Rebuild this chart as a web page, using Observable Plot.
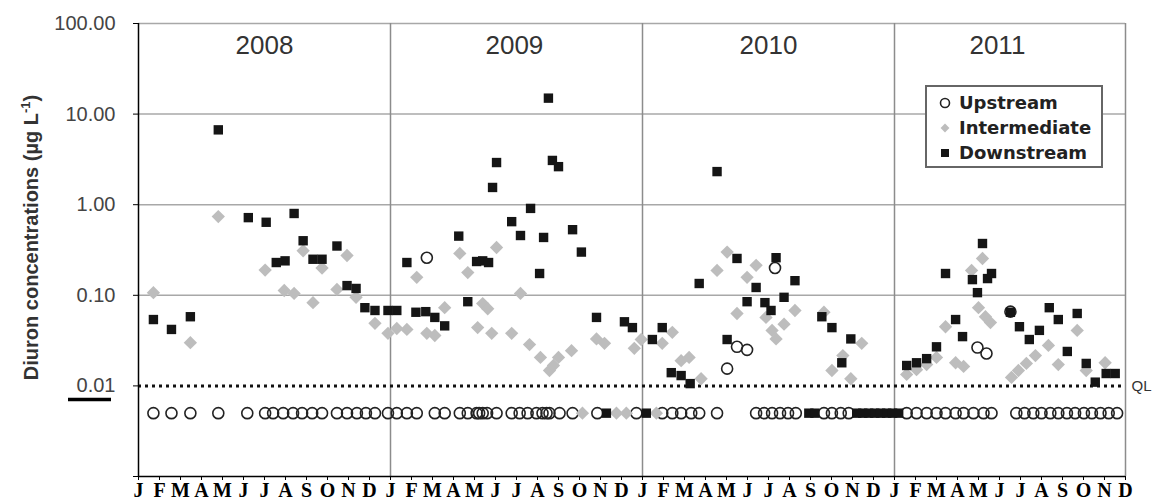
<!DOCTYPE html>
<html><head><meta charset="utf-8">
<script src="https://cdn.jsdelivr.net/npm/d3@7"></script>
<script src="https://cdn.jsdelivr.net/npm/@observablehq/plot@0.6"></script>
<style>
body{margin:0;background:#fff;}
#wrap{position:relative;width:1153px;height:503px;overflow:hidden;}
#legend{position:absolute;left:925px;top:85px;}
</style></head><body><div id="wrap"></div>
<script>
// ---------- data ----------
const monthLabels = ["J","F","M","A","M","J","J","A","S","O","N","D"];
const years = ["2008","2009","2010","2011"];
const yearLabelMonth = [6.0, 17.9, 30.0, 40.9];
const yearLabelValue = 57;
const yearBoundaries = [12, 24, 36, 47];
const gridValues = [0.1, 1, 10, 100];
const yTicks = [0.001, 0.01, 0.1, 1, 10, 100];
const QL = 0.01;
const seriesNames = ["Upstream", "Intermediate", "Downstream"];

// month index since Jan 2008 ; values in µg/L (0.005 = below QL)
const upMonth = [
  0.71,1.57,2.47,3.80,5.18,6.03,6.41,6.89,7.36,7.79,8.27,8.74,9.45,9.93,10.40,10.83,11.26,11.88,12.30,
  12.78,13.25,13.73,14.11,14.58,15.30,15.68,16.10,16.22,16.39,16.60,17.05,17.77,18.15,18.53,18.95,19.24,19.43,19.57,20.05,20.67,21.85,23.71,
  24.94,25.42,25.84,26.32,26.70,27.55,28.03,28.50,28.98,29.41,29.79,30.17,30.31,30.55,30.93,31.30,32.64,33.02,33.44,33.82,
  36.58,37.05,37.53,38.00,38.43,38.91,39.29,39.76,39.95,40.24,40.38,40.62,41.52,
  41.80,42.19,42.61,43.00,43.42,43.80,44.21,44.60,45.02,45.40,45.81,46.20,46.60
];
const upValue = [
  0.005,0.005,0.005,0.005,0.005,0.005,0.005,0.005,0.005,0.005,0.005,0.005,0.005,0.005,0.005,0.005,0.005,0.005,0.005,
  0.005,0.005,0.26,0.005,0.005,0.005,0.005,0.005,0.005,0.005,0.005,0.005,0.005,0.005,0.005,0.005,0.005,0.005,0.005,0.005,0.005,0.005,0.005,
  0.005,0.005,0.005,0.005,0.005,0.005,0.0155,0.027,0.025,0.005,0.005,0.005,0.20,0.005,0.005,0.005,0.005,0.005,0.005,0.005,
  0.005,0.005,0.005,0.005,0.005,0.005,0.005,0.005,0.0265,0.005,0.0228,0.005,0.066,
  0.005,0.005,0.005,0.005,0.005,0.005,0.005,0.005,0.005,0.005,0.005,0.005,0.005
];

const interMonth = [
  0.71,2.47,3.80,6.03,6.94,7.41,7.84,8.31,8.74,9.45,9.93,10.36,11.26,11.88,12.30,
  12.78,13.25,13.73,14.11,14.58,15.30,15.68,16.15,16.39,16.63,16.82,17.05,17.77,18.19,18.62,19.14,19.57,19.76,20.00,20.62,21.14,21.81,22.19,22.76,23.23,23.61,23.94,24.66,
  24.94,25.42,25.84,26.22,26.79,27.55,28.03,28.50,28.98,29.41,29.88,30.17,30.36,30.74,31.26,32.64,33.02,33.54,33.92,34.44,
  36.58,37.05,37.53,38.00,38.43,38.91,39.29,39.67,40.00,40.19,40.33,40.57,41.57,41.90,42.28,42.71,43.33,43.80,44.70,45.13,46.03
];
const interValue = [
  0.107,0.030,0.74,0.19,0.113,0.105,0.31,0.083,0.20,0.116,0.275,0.095,0.049,0.038,0.043,
  0.042,0.158,0.038,0.036,0.073,0.29,0.178,0.044,0.081,0.071,0.038,0.337,0.038,0.105,0.0286,0.0206,0.0148,0.0168,0.0206,0.0245,0.005,0.033,0.0295,0.005,0.005,0.026,0.0325,0.005,
  0.0295,0.039,0.019,0.0206,0.012,0.188,0.30,0.063,0.158,0.214,0.057,0.041,0.033,0.048,0.068,0.065,0.0148,0.0216,0.012,0.0295,
  0.0134,0.0151,0.0172,0.0206,0.045,0.018,0.0164,0.188,0.073,0.255,0.058,0.050,0.0124,0.0148,0.0177,0.0216,0.028,0.0172,0.041,0.0148,0.018
];

const downMonth = [
  0.71,1.57,2.47,3.80,5.23,6.08,6.56,6.98,7.41,7.84,8.31,8.74,9.45,9.93,10.36,10.78,11.26,11.88,12.30,
  12.78,13.21,13.68,14.11,14.58,15.25,15.68,16.10,16.39,16.67,16.86,17.05,17.77,18.19,18.67,19.10,19.29,19.52,19.71,20.00,20.67,21.09,21.81,22.28,23.14,23.52,24.18,
  24.47,24.94,25.37,25.84,26.27,26.70,27.55,28.03,28.50,28.98,29.41,29.83,30.12,30.36,30.74,31.26,31.92,32.21,32.54,33.02,33.49,33.92,
  34.20,34.49,34.77,35.06,35.34,35.63,35.91,36.20,
  36.58,37.05,37.53,38.00,38.43,38.91,39.24,39.71,39.95,40.19,40.43,40.62,41.52,41.95,42.42,42.90,43.37,43.80,44.23,44.70,45.13,45.56,46.08,46.51
];
const downValue = [
  0.054,0.042,0.058,6.7,0.72,0.64,0.23,0.24,0.80,0.40,0.25,0.25,0.35,0.128,0.119,0.073,0.068,0.068,0.068,
  0.23,0.065,0.066,0.057,0.046,0.45,0.085,0.236,0.24,0.23,1.55,2.92,0.65,0.457,0.91,0.174,0.435,15.0,3.08,2.63,0.53,0.30,0.057,0.005,0.051,0.044,0.005,
  0.0325,0.044,0.014,0.013,0.0106,0.135,2.32,0.0325,0.255,0.085,0.122,0.083,0.068,0.26,0.095,0.145,0.005,0.005,0.058,0.044,0.018,0.033,
  0.005,0.005,0.005,0.005,0.005,0.005,0.005,0.005,
  0.0168,0.018,0.020,0.027,0.174,0.054,0.035,0.149,0.107,0.373,0.153,0.174,0.065,0.045,0.0325,0.041,0.073,0.054,0.024,0.063,0.0177,0.011,0.0137,0.0137
];

// ---------- tables ----------
const up = upMonth.map((m, i) => ({m, v: upValue[i]}));
const inter = interMonth.map((m, i) => ({m, v: interValue[i]}));
const down = downMonth.map((m, i) => ({m, v: downValue[i]}));

const SANS = "'Liberation Sans', Arial, Helvetica, sans-serif";
const SERIF = "'Liberation Serif', 'Times New Roman', serif";

const chart = Plot.plot({
  width: 1153, height: 503,
  marginLeft: 138, marginRight: 28, marginTop: 23, marginBottom: 27,
  style: {fontFamily: SANS, background: "#fff", overflow: "visible"},
  x: {domain: [0, 47]},
  y: {type: "log", domain: [0.001, 100]},
  marks: [
    Plot.ruleY(gridValues, {stroke: "#a8a8a8", strokeWidth: 1.5}),
    Plot.ruleX(yearBoundaries, {stroke: "#8c8c8c", strokeWidth: 1.5}),
    Plot.ruleY([QL], {x1: 0, x2: 47, stroke: "#111", strokeWidth: 3, strokeDasharray: "3,4"}),
    Plot.text(["QL"], {x: 47, y: QL, dx: 6, textAnchor: "start", fontSize: 15, fill: "#333"}),
    Plot.text(years, {x: yearLabelMonth, y: yearLabelValue, fontSize: 26, fill: "#333"}),
    Plot.dot(up, {x: "m", y: "v", r: 5.5, stroke: "#222", strokeWidth: 1.6, fill: "none"}),
    Plot.dot(inter, {x: "m", y: "v", symbol: "diamond2", r: 6, fill: "#bdbdbd", stroke: "none"}),
    Plot.dot(down, {x: "m", y: "v", symbol: "square", r: 5.3, fill: "#151515", stroke: "none"}),
    Plot.axisY({ticks: yTicks, tickFormat: d => d < 0.005 ? "" : d.toFixed(2), tickSize: 5, tickPadding: 18,
      fontSize: 20, fill: "#444", stroke: "#000", label: null}),
    Plot.axisX({ticks: d3.range(48), tickFormat: i => monthLabels[i % 12], tickSize: 4, tickPadding: 2,
      fontSize: 20, fontFamily: SERIF, fontWeight: "bold", fill: "#000", stroke: "#000", label: null}),
    Plot.ruleX([0], {stroke: "#000", strokeWidth: 1.5}),
    Plot.ruleY([0.001], {stroke: "#000", strokeWidth: 1.5})
  ]
});
document.getElementById("wrap").appendChild(chart);

// y-axis title and the underline below the 0.01 label
const svg = d3.select(chart);
const ys = chart.scale("y");
const yMid = (ys.apply(100) + ys.apply(0.001)) / 2 - 12;
const t = svg.append("text")
  .attr("transform", `translate(38,${yMid}) rotate(-90)`)
  .attr("text-anchor", "middle")
  .attr("font-family", SANS).attr("font-weight", "bold").attr("font-size", 20).attr("fill", "#333");
t.append("tspan").text("Diuron concentrations (µg L");
t.append("tspan").attr("dy", -8).attr("font-size", 13).text("-1");
t.append("tspan").attr("dy", 8).text(")");
svg.append("line")
  .attr("x1", 68).attr("x2", 111)
  .attr("y1", ys.apply(QL) + 14).attr("y2", ys.apply(QL) + 14)
  .attr("stroke", "#000").attr("stroke-width", 3.5);

// legend
const lg = d3.select("#wrap").append("svg").attr("id", "legend").attr("width", 180).attr("height", 84);
lg.append("rect").attr("x", 1).attr("y", 1).attr("width", 176).attr("height", 81)
  .attr("fill", "#fff").attr("stroke", "#666").attr("stroke-width", 2);
const rowY = [18, 43, 68];
lg.append("circle").attr("cx", 20).attr("cy", rowY[0]).attr("r", 4.5).attr("fill", "none").attr("stroke", "#222").attr("stroke-width", 1.6);
lg.append("path").attr("d", d3.symbol(d3.symbolDiamond2, 50)()).attr("transform", `translate(20,${rowY[1]})`).attr("fill", "#bdbdbd");
lg.append("rect").attr("x", 16).attr("y", rowY[2] - 4).attr("width", 8).attr("height", 8).attr("fill", "#151515");
seriesNames.forEach((s, i) => {
  lg.append("text").attr("x", 34).attr("y", rowY[i]).attr("dy", "0.36em")
    .attr("font-family", "'DejaVu Sans', sans-serif").attr("font-weight", "bold").attr("font-size", 18)
    .attr("fill", "#222").text(s);
});
</script>
</body></html>
